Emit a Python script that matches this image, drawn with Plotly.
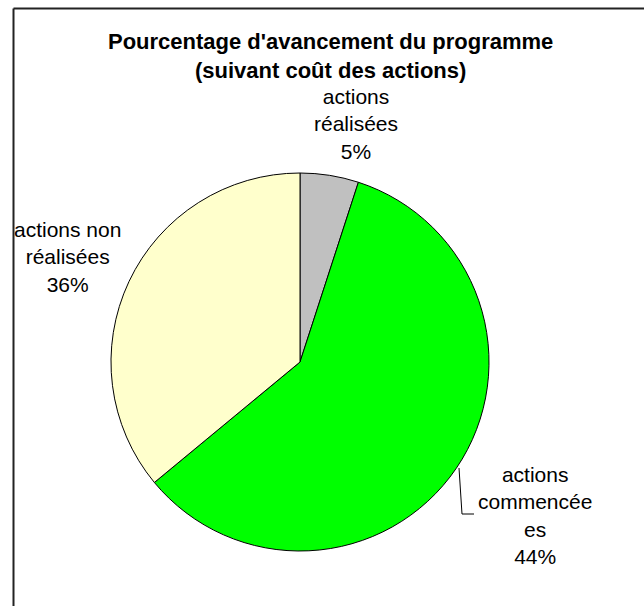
import plotly.graph_objects as go

# ---- data ----
categories = ["actions réalisées", "actions commencées", "actions non réalisées"]
slice_values = [5, 59, 36]          # angular share of each slice as drawn
label_percent = ["5%", "44%", "36%"]  # percentages printed on the chart
label_lines = [
    "actions<br>réalisées",
    "actions<br>commencée<br>es",
    "actions non<br>réalisées",
]
colors = ["#C0C0C0", "#00FF00", "#FFFFCC"]
title_text = "Pourcentage d'avancement du programme<br>(suivant coût des actions)"

W, H = 644, 606


def px(x):
    return x / W


def py(y):
    return 1 - y / H


fig = go.Figure(
    go.Pie(
        labels=categories,
        values=slice_values,
        sort=False,
        direction="clockwise",
        rotation=0,
        marker=dict(colors=colors, line=dict(color="#000000", width=1)),
        textinfo="none",
        hoverinfo="label+percent",
        showlegend=False,
        domain=dict(x=[px(111), px(489)], y=[py(551), py(173)]),
    )
)

font_lbl = dict(family="Liberation Sans, Arial, sans-serif", size=21, color="#000000")

# label positions (centre x, top y) in pixels
label_pos = [(356, 84), (535, 462), (67, 217)]
annotations = []
for txt, pct, (x, y) in zip(label_lines, label_percent, label_pos):
    annotations.append(
        dict(
            text=txt + "<br>" + pct,
            x=px(x), y=py(y), xref="paper", yref="paper",
            xanchor="center", yanchor="top", showarrow=False,
            align="center", font=font_lbl, borderpad=0,
        )
    )

annotations.append(
    dict(
        text="<b>" + title_text + "</b>",
        x=px(330), y=py(28), xref="paper", yref="paper",
        xanchor="center", yanchor="top", showarrow=False, align="center",
        font=dict(family="Liberation Sans, Arial, sans-serif", size=22, color="#000000"),
        borderpad=0,
    )
)

shapes = [
    # chart area border (top and left visible)
    dict(type="line", xref="paper", yref="paper", x0=px(13.5), x1=px(13.5), y0=0, y1=py(8.5),
         line=dict(color="#222222", width=2)),
    dict(type="line", xref="paper", yref="paper", x0=px(13.5), x1=1, y0=py(8.5), y1=py(8.5),
         line=dict(color="#222222", width=2)),
    # leader line for "actions commencées"
    dict(type="path", xref="paper", yref="paper",
         path=f"M {px(459)} {py(468)} L {px(462)} {py(514)} L {px(474)} {py(514)}",
         line=dict(color="#000000", width=1)),
]

fig.update_layout(
    width=W, height=H,
    margin=dict(l=0, r=0, t=0, b=0),
    paper_bgcolor="#FFFFFF",
    plot_bgcolor="#FFFFFF",
    annotations=annotations,
    shapes=shapes,
)

fig.write_html("out.html")
